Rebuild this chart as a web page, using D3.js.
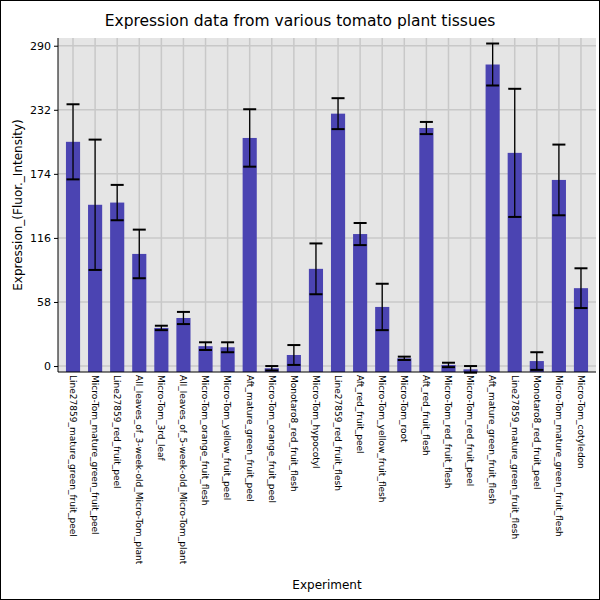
<!DOCTYPE html>
<html><head><meta charset="utf-8">
<script src="https://cdn.jsdelivr.net/npm/d3@7"></script>
<style>body{margin:0}svg{font-family:"DejaVu Sans",sans-serif}</style>
</head><body><svg id="chart" width="600" height="600"></svg>
<script>
const experiments = ["Line27859_mature_green_fruit_peel","Micro-Tom_mature_green_fruit_peel","Line27859_red_fruit_peel","All_leaves_of_3-week-old_Micro-Tom_plant","Micro-Tom_3rd_leaf","All_leaves_of_5-week-old_Micro-Tom_plant","Micro-Tom_orange_fruit_flesh","Micro-Tom_yellow_fruit_peel","Aft_mature_green_fruit_peel","Micro-Tom_orange_fruit_peel","Monotaro8_red_fruit_flesh","Micro-Tom_hypocotyl","Line27859_red_fruit_flesh","Aft_red_fruit_peel","Micro-Tom_yellow_fruit_flesh","Micro-Tom_root","Aft_red_fruit_flesh","Micro-Tom_red_fruit_flesh","Micro-Tom_red_fruit_peel","Aft_mature_green_fruit_flesh","Line27859_mature_green_fruit_flesh","Monotaro8_red_fruit_peel","Micro-Tom_mature_green_fruit_flesh","Micro-Tom_cotyledon"]
const means = [203,146,148,101.5,34.5,43.5,18,17,206.5,-2,10,88,228.5,119.5,53.5,7,215.5,1,-3,273,193,4.5,168.5,70.5]
const errs = [34,59,16,22,2,5.5,3.5,4.5,26,2,9,23,14,10,21,1.5,5.5,2,3,19,58,8,32,18]
const ticks = [0,58,116,174,232,290]

const svg = d3.select("#chart")
const m = {top: 38, right: 4, bottom: 228, left: 58}
const W = 600, H = 600

svg.append("rect").attr("x",0.5).attr("y",0.5).attr("width",W-1).attr("height",H-1)
  .attr("fill","white").attr("stroke","black")

const x = d3.scaleBand().domain(experiments).range([m.left, W - m.right]).padding(0.36)
const y = d3.scaleLinear().domain([-5.4, 297]).range([H - m.bottom, m.top])

svg.append("rect").attr("x", m.left).attr("y", m.top)
  .attr("width", W - m.right - m.left).attr("height", H - m.bottom - m.top).attr("fill", "#e5e5e5")

// grid
svg.append("g").selectAll("line").data(ticks).join("line")
  .attr("x1", m.left).attr("x2", W - m.right).attr("y1", d => y(d)).attr("y2", d => y(d))
  .attr("stroke", "#c8c8c8").attr("stroke-width", 1.5)
svg.append("g").selectAll("line").data(experiments).join("line")
  .attr("x1", d => x(d) + x.bandwidth()/2).attr("x2", d => x(d) + x.bandwidth()/2)
  .attr("y1", m.top).attr("y2", H - m.bottom)
  .attr("stroke", "#c8c8c8").attr("stroke-width", 1.5)

// bars
svg.append("g").selectAll("rect").data(experiments).join("rect")
  .attr("x", d => x(d)).attr("width", x.bandwidth())
  .attr("y", (d, i) => y(means[i])).attr("height", (d, i) => y.range()[0] - y(means[i]))
  .attr("fill", "#4b44b2")

// error bars
const eb = svg.append("g").attr("stroke", "black")
experiments.forEach((d, i) => {
  const cx = x(d) + x.bandwidth()/2
  const lo = y(means[i] - errs[i]), hi = y(means[i] + errs[i])
  eb.append("line").attr("x1", cx).attr("x2", cx).attr("y1", lo).attr("y2", hi).attr("stroke-width", 1.3)
  ;[lo, hi].forEach(v => eb.append("line").attr("x1", cx - 6.5).attr("x2", cx + 6.5)
    .attr("y1", v).attr("y2", v).attr("stroke-width", 2))
})

// axes
const ya = svg.append("g").attr("transform", `translate(${m.left},0)`)
  .call(d3.axisLeft(y).tickValues(ticks).tickSize(4))
ya.select(".domain").attr("d", `M0,${m.top}V${H - m.bottom}`)
ya.selectAll("text").attr("font-size", 11).attr("fill", "black").attr("font-family", "DejaVu Sans")

const xa = svg.append("g").attr("transform", `translate(0,${H - m.bottom})`)
  .call(d3.axisBottom(x).tickSize(0))
xa.select(".domain").attr("d", `M${m.left},0H${W - m.right}`)
xa.selectAll("text").attr("font-size", 9).attr("fill", "black").attr("font-family", "DejaVu Sans")
  .attr("transform", "rotate(90)").attr("text-anchor", "start").attr("x", 3).attr("y", 0).attr("dy", "0.35em")

svg.append("text").attr("x", 300).attr("y", 26).attr("text-anchor", "middle").attr("font-size", 15.5).text("Expression data from various tomato plant tissues")
svg.append("text").attr("x", 327).attr("y", 589).attr("text-anchor", "middle").attr("font-size", 12).text("Experiment")
svg.append("text").attr("transform", `translate(22,${(m.top + H - m.bottom)/2}) rotate(-90)`)
  .attr("text-anchor", "middle").attr("font-size", 12).text("Expression_(Fluor._Intensity)")
</script></body></html>
